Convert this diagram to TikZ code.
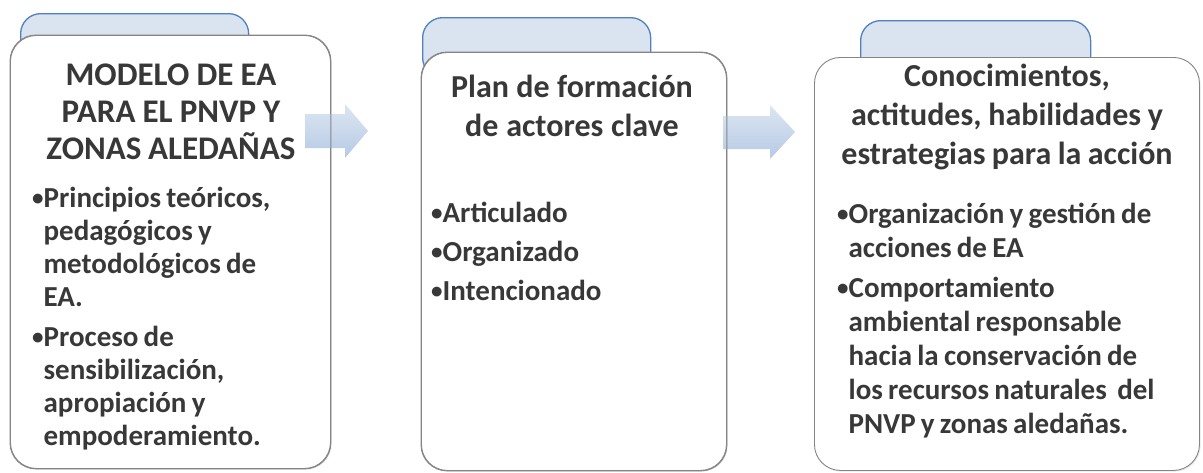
\documentclass[tikz,border=0pt]{standalone}
\usepackage{fontspec}
\setmainfont{Carlito}
\usetikzlibrary{shadows}
\definecolor{txt}{HTML}{383838}
\definecolor{tabblue}{HTML}{4F81BD}
\definecolor{tabfill}{HTML}{DAE3F0}
\definecolor{boxline}{HTML}{858585}
\definecolor{arrA}{HTML}{DCE6F3}
\definecolor{arrB}{HTML}{B6CAE4}
\newcommand{\bu}{{\fontsize{23}{23}\selectfont\raisebox{1.6pt}{•}}}
\newcommand{\ind}{\phantom{\bu}}
\newcommand{\tight}{\spaceskip=0.18em plus 0.05em minus 0.02em\relax}
\tikzset{
  tabbox/.style={draw=tabblue, fill=tabfill, line width=1.3pt, rounded corners=20pt, anchor=north west, inner sep=0pt},
  mainbox/.style={draw=boxline, fill=white, line width=0.9pt, rounded corners=26pt, anchor=north west, inner sep=0pt,
    drop shadow={opacity=0.18, shadow xshift=1.2pt, shadow yshift=-1.2pt}},
  boxedge/.style={draw=boxline, line width=0.9pt, rounded corners=26pt},
  titleA/.style={font=\bfseries\fontsize{33}{37}\selectfont, text=txt, align=center, inner sep=0pt, text width=310pt, anchor=base},
  titleB/.style={font=\bfseries\fontsize{32}{39}\selectfont, text=txt, align=center, inner sep=0pt, text width=380pt, anchor=base},
  bul/.style={font=\bfseries\fontsize{29}{33}\selectfont, text=txt, align=left, inner sep=0pt, text width=370pt, anchor=base west},
  bulC/.style={bul, font=\bfseries\fontsize{29}{34}\selectfont},
  blockarrow/.style={top color=arrA, bottom color=arrB, draw=none}
}
\begin{document}
\begin{tikzpicture}[x=1pt,y=-1pt]
\useasboundingbox (0,0) rectangle (1203,472);
% tabs
\node[tabbox, minimum width=228pt, minimum height=60pt] (t1) at (20,13) {};
\node[tabbox, minimum width=228pt, minimum height=60pt] (t2) at (422,17) {};
\node[tabbox, minimum width=230pt, minimum height=60pt] (t3) at (860,20) {};
% main boxes
\node[mainbox, minimum width=320pt, minimum height=433pt] (m1) at (10,35) {};
\node[mainbox, minimum width=305pt, minimum height=418pt] (m2) at (421,52) {};
\node[mainbox, minimum width=385pt, minimum height=413pt] (m3) at (814,57) {};
% block arrows
\path[blockarrow] (305,114) -- (345,114) -- (345,104) -- (368,131) -- (345,158) -- (345,148) -- (305,148) -- cycle;
\path[blockarrow] (723,116) -- (770,116) -- (770,105) -- (795,132) -- (770,159) -- (770,149) -- (723,149) -- cycle;
% box outlines shown through the arrows
\draw[boxedge] (m1.north west) rectangle (m1.south east);
\draw[boxedge] (m2.north west) rectangle (m2.south east);
% panel 1
\node[titleA] (h1) at (171,85) {\tight MODELO DE EA\\PARA EL PNVP Y\\ZONAS ALEDAÑAS};
\node[bul] (b1) at (32,207) {\tight\bu Principios teóricos,\\\ind pedagógicos y\\\ind metodológicos de\\\ind EA.\\[7.5pt]\bu Proceso de\\\ind sensibilización,\\\ind apropiación y\\\ind empoderamiento.};
% panel 2
\node[titleB] (h2) at (572,97) {\tight Plan de formación\\de actores clave};
\node[bul] (b2) at (431,222) {\tight\bu Articulado\\[6pt]\bu Organizado\\[6pt]\bu Intencionado};
% panel 3
\node[titleB] (h3) at (1007,86) {\tight Conocimientos,\\actitudes, habilidades y\\estrategias para la acción};
\node[bulC] (b3) at (837,223) {\tight\bu Organización y gestión de\\\ind acciones de EA\\[6pt]\bu Comportamiento\\\ind ambiental responsable\\\ind hacia la conservación de\\\ind los recursos naturales~~del\\\ind PNVP y zonas aledañas.};
\end{tikzpicture}
\end{document}
